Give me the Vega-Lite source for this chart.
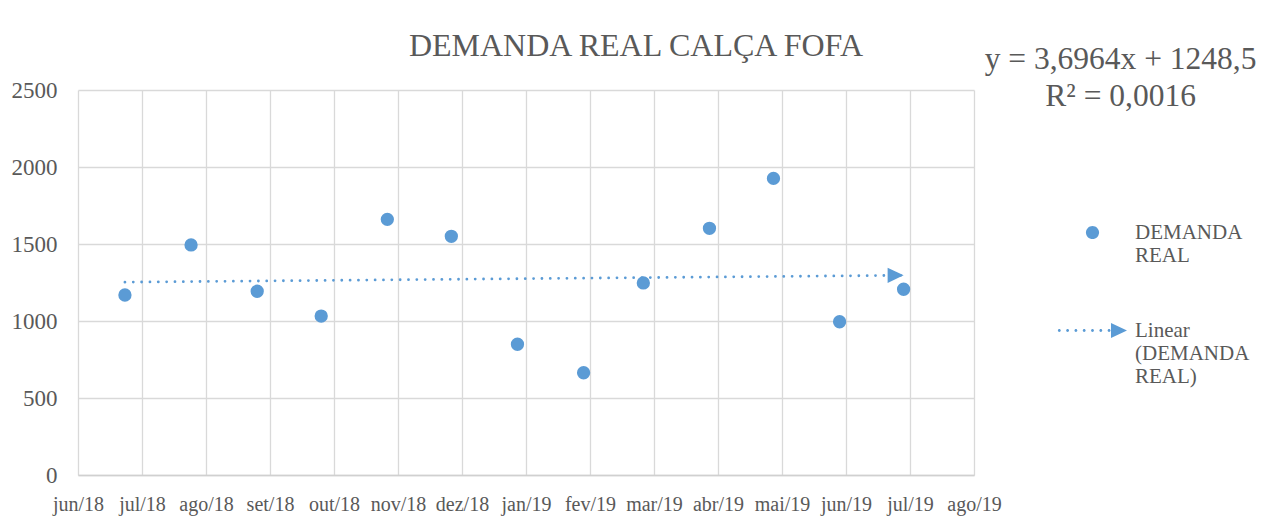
{
  "$schema": "https://vega.github.io/schema/vega-lite/v6.json",
  "width": 896,
  "height": 385,
  "autosize": {"type": "none"},
  "padding": {"left": 78, "top": 90, "right": 298, "bottom": 45},
  "background": "white",
  "title": {
    "text": "DEMANDA REAL CALÇA FOFA",
    "anchor": "middle",
    "frame": "group",
    "dx": 110,
    "offset": -19,
    "font": "Liberation Serif",
    "fontSize": 32,
    "fontWeight": "normal",
    "color": "#595959"
  },
  "config": {"view": {"stroke": null}, "font": "Liberation Serif"},
  "datasets": {
    "demanda": [
      {"mes": "2018-07-01", "demanda": 1169},
      {"mes": "2018-08-01", "demanda": 1494},
      {"mes": "2018-09-01", "demanda": 1193},
      {"mes": "2018-10-01", "demanda": 1032},
      {"mes": "2018-11-01", "demanda": 1660},
      {"mes": "2018-12-01", "demanda": 1550},
      {"mes": "2019-01-01", "demanda": 849},
      {"mes": "2019-02-01", "demanda": 664},
      {"mes": "2019-03-01", "demanda": 1247},
      {"mes": "2019-04-01", "demanda": 1602},
      {"mes": "2019-05-01", "demanda": 1926},
      {"mes": "2019-06-01", "demanda": 995},
      {"mes": "2019-07-01", "demanda": 1206}
    ],
    "tendencia": [
      {"mes": "2018-07-01", "valor": 1252.2},
      {"mes": "2019-07-01", "valor": 1296.5}
    ]
  },
  "encoding": {
    "x": {
      "field": "mes",
      "type": "temporal",
      "scale": {
        "type": "utc",
        "domain": [
          {"year": 2018, "month": 6, "date": 9, "utc": true},
          {"year": 2019, "month": 8, "date": 3, "utc": true}
        ]
      },
      "axis": {
        "title": null,
        "values": [
          {"year": 2018, "month": 6, "date": 9, "utc": true},
          {"year": 2018, "month": 7, "date": 9, "utc": true},
          {"year": 2018, "month": 8, "date": 8, "utc": true},
          {"year": 2018, "month": 9, "date": 7, "utc": true},
          {"year": 2018, "month": 10, "date": 7, "utc": true},
          {"year": 2018, "month": 11, "date": 6, "utc": true},
          {"year": 2018, "month": 12, "date": 6, "utc": true},
          {"year": 2019, "month": 1, "date": 5, "utc": true},
          {"year": 2019, "month": 2, "date": 4, "utc": true},
          {"year": 2019, "month": 3, "date": 6, "utc": true},
          {"year": 2019, "month": 4, "date": 5, "utc": true},
          {"year": 2019, "month": 5, "date": 5, "utc": true},
          {"year": 2019, "month": 6, "date": 4, "utc": true},
          {"year": 2019, "month": 7, "date": 4, "utc": true},
          {"year": 2019, "month": 8, "date": 3, "utc": true}
        ],
        "labelExpr": "['jan','fev','mar','abr','mai','jun','jul','ago','set','out','nov','dez'][utcmonth(datum.value)] + '/' + utcFormat(datum.value, '%y')",
        "grid": true,
        "gridColor": "#d9d9d9",
        "gridWidth": 1.3,
        "ticks": false,
        "domain": true,
        "domainColor": "#d0d0d0",
        "domainWidth": 1.3,
        "labelFont": "Liberation Serif",
        "labelFontSize": 20,
        "labelColor": "#595959",
        "labelPadding": 19,
        "labelFlush": false,
        "labelOverlap": false
      }
    }
  },
  "layer": [
    {
      "data": {"name": "demanda"},
      "mark": {"type": "point", "filled": true, "size": 177, "opacity": 1},
      "encoding": {
        "y": {
          "field": "demanda",
          "type": "quantitative",
          "scale": {"domain": [0, 2500], "nice": false},
          "axis": {
            "title": null,
            "values": [0, 500, 1000, 1500, 2000, 2500],
            "format": "d",
            "grid": true,
            "gridColor": "#d9d9d9",
            "gridWidth": 1.3,
            "ticks": false,
            "domain": false,
            "labelFont": "Liberation Serif",
            "labelFontSize": 23,
            "labelColor": "#595959",
            "labelPadding": 21,
            "labelFlush": false
          }
        },
        "color": {
          "datum": "DEMANDA REAL",
          "type": "nominal",
          "scale": {
            "domain": ["DEMANDA REAL", "Linear (DEMANDA REAL)"],
            "range": ["#5B9BD5", "#5B9BD5"]
          },
          "legend": {
            "title": null,
            "orient": "none",
            "direction": "vertical",
            "legendX": 980,
            "legendY": 97,
            "padding": 0,
            "symbolSize": 4761,
            "symbolStrokeWidth": 0,
            "symbolType": {"expr": "datum.value == 'DEMANDA REAL' ? 'M-0.19,0.319A0.19,0.19,0,1,0,0.19,0.319A0.19,0.19,0,1,0,-0.19,0.319Z' : 'M-1.004,0.319a0.042,0.042,0,1,0,0.084,0a0.042,0.042,0,1,0,-0.084,0ZM-0.764,0.319a0.042,0.042,0,1,0,0.084,0a0.042,0.042,0,1,0,-0.084,0ZM-0.523,0.319a0.042,0.042,0,1,0,0.084,0a0.042,0.042,0,1,0,-0.084,0ZM-0.283,0.319a0.042,0.042,0,1,0,0.084,0a0.042,0.042,0,1,0,-0.084,0ZM-0.042,0.319a0.042,0.042,0,1,0,0.084,0a0.042,0.042,0,1,0,-0.084,0ZM0.199,0.319a0.042,0.042,0,1,0,0.084,0a0.042,0.042,0,1,0,-0.084,0ZM0.438,0.319a0.042,0.042,0,1,0,0.084,0a0.042,0.042,0,1,0,-0.084,0ZM0.536,0.102L1,0.319L0.536,0.536Z'"},
            "labelOffset": 8,
            "rowPadding": 19,
            "labelFont": "Liberation Serif",
            "labelFontSize": 21,
            "labelColor": "#595959",
            "labelBaseline": "top",
            "labelLimit": 200,
            "labelExpr": "datum.label == 'DEMANDA REAL' ? ['DEMANDA','REAL'] : ['Linear','(DEMANDA','REAL)']",
            "encode": {
              "symbols": {
                "size": {"value": 4761},
                "fill": {"value": "#5B9BD5"},
                "fillOpacity": {"value": 1},
                "opacity": {"value": 1},
                "strokeWidth": {"value": 0}
              }
            }
          }
        }
      }
    },
    {
      "data": {"name": "tendencia"},
      "mark": {"type": "line", "strokeDash": [0.01, 8.33], "strokeCap": "round", "strokeWidth": 2.8},
      "encoding": {
        "y": {"field": "valor", "type": "quantitative"},
        "color": {"datum": "Linear (DEMANDA REAL)", "type": "nominal"}
      }
    },
    {
      "data": {"name": "tendencia"},
      "transform": [{"filter": "utcyear(datum.mes) == 2019"}],
      "mark": {"type": "point", "shape": "M-1,-0.95L1,0L-1,0.95Z", "size": 256, "filled": true, "opacity": 1, "color": "#5B9BD5", "xOffset": -8},
      "encoding": {
        "y": {"field": "valor", "type": "quantitative"}
      }
    },
    {
      "data": {"name": "tendencia"},
      "transform": [{"filter": "utcyear(datum.mes) == 2019"}],
      "mark": {
        "type": "text",
        "text": ["y = 3,6964x + 1248,5", "R² = 0,0016"],
        "align": "center",
        "baseline": "alphabetic",
        "dx": 217,
        "dy": -206,
        "font": "Liberation Serif",
        "fontSize": 31.5,
        "lineHeight": 36.7,
        "color": "#595959"
      },
      "encoding": {
        "y": {"field": "valor", "type": "quantitative"}
      }
    }
  ]
}
